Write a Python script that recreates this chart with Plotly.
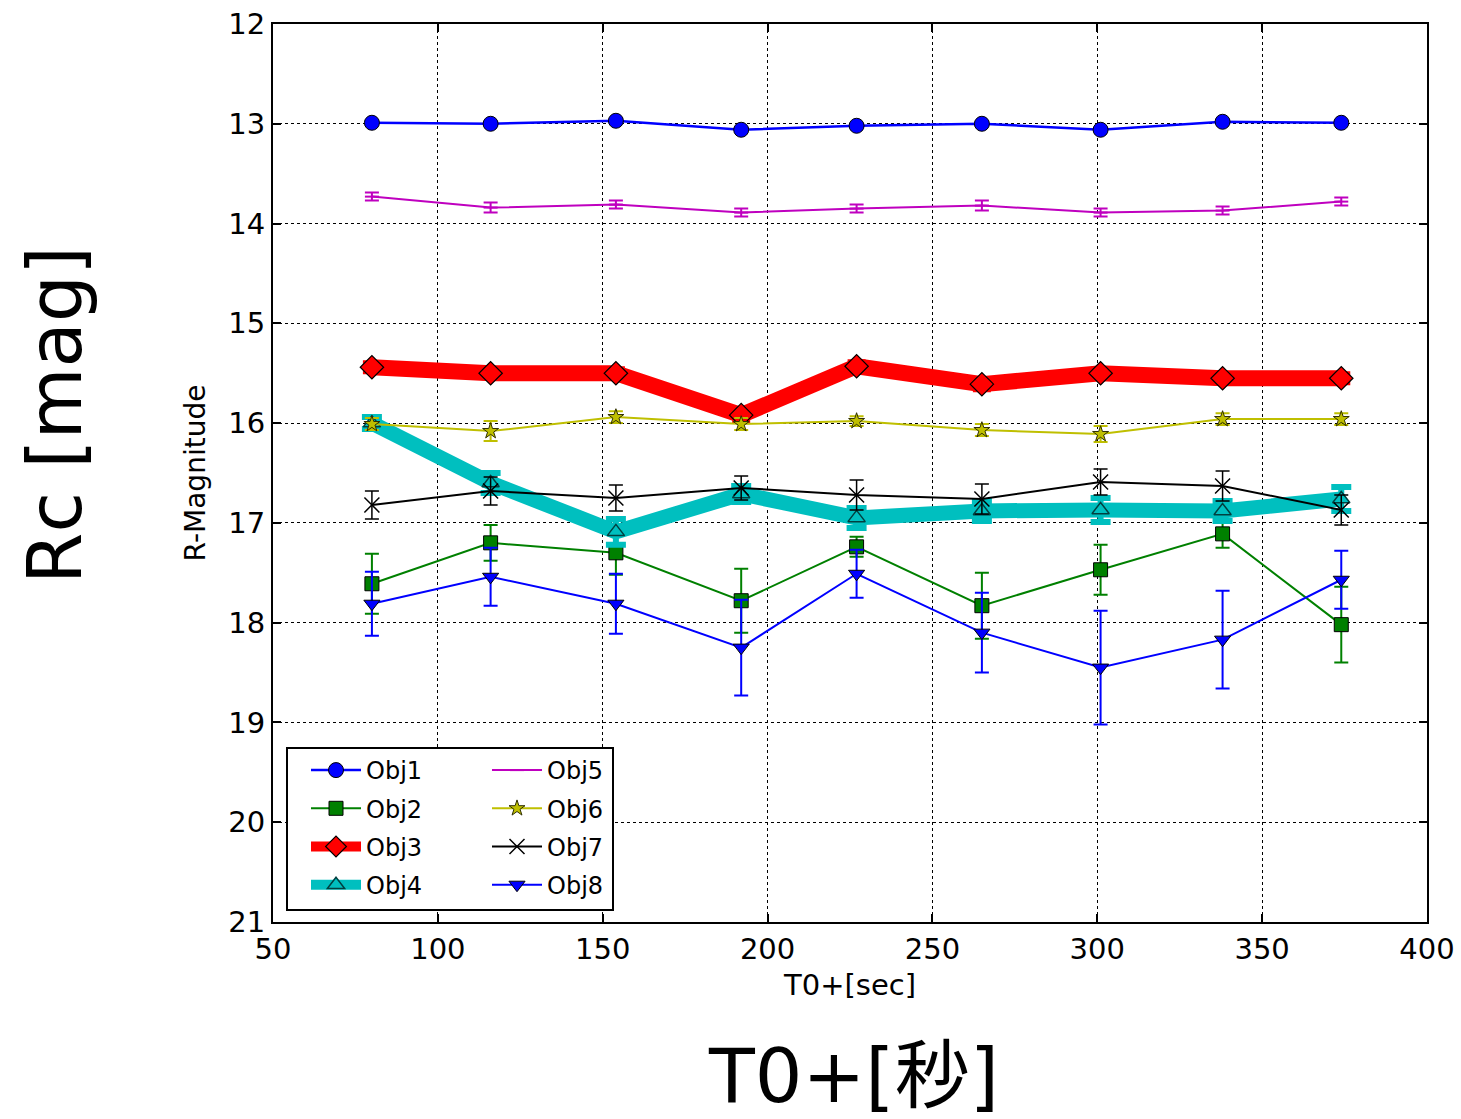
import plotly.graph_objects as go

# ---------------- data ----------------
t_sec = [80, 116, 154, 192, 227, 265, 301, 338, 374]

obj1 = [12.99, 13.00, 12.97, 13.06, 13.02, 13.00, 13.06, 12.98, 12.99]
obj1_err = [0.02, 0.02, 0.02, 0.02, 0.02, 0.02, 0.02, 0.02, 0.02]

obj2 = [17.61, 17.20, 17.30, 17.78, 17.24, 17.83, 17.47, 17.11, 18.02]
obj2_err = [0.30, 0.18, 0.22, 0.32, 0.10, 0.33, 0.25, 0.14, 0.38]

obj3 = [15.44, 15.50, 15.50, 15.92, 15.43, 15.61, 15.50, 15.55, 15.55]
obj3_err = [0.04, 0.04, 0.04, 0.05, 0.04, 0.05, 0.04, 0.04, 0.04]

obj4 = [16.00, 16.60, 17.09, 16.71, 16.95, 16.88, 16.87, 16.88, 16.76]
obj4_err = [0.06, 0.10, 0.13, 0.08, 0.10, 0.10, 0.12, 0.10, 0.12]

obj5 = [13.73, 13.84, 13.81, 13.89, 13.85, 13.82, 13.89, 13.87, 13.78]
obj5_err = [0.04, 0.05, 0.04, 0.04, 0.04, 0.05, 0.04, 0.04, 0.04]

obj6 = [16.01, 16.08, 15.94, 16.01, 15.98, 16.07, 16.11, 15.96, 15.96]
obj6_err = [0.06, 0.10, 0.06, 0.06, 0.05, 0.06, 0.08, 0.06, 0.06]

obj7 = [16.82, 16.68, 16.75, 16.65, 16.72, 16.76, 16.59, 16.63, 16.87]
obj7_err = [0.14, 0.14, 0.13, 0.12, 0.15, 0.15, 0.13, 0.15, 0.15]

obj8 = [17.81, 17.54, 17.81, 18.25, 17.51, 18.10, 18.45, 18.17, 17.57]
obj8_err = [0.32, 0.29, 0.30, 0.48, 0.24, 0.40, 0.57, 0.49, 0.29]

names = ["Obj1", "Obj2", "Obj3", "Obj4", "Obj5", "Obj6", "Obj7", "Obj8"]
x_ticks = [50, 100, 150, 200, 250, 300, 350, 400]
y_ticks = [12, 13, 14, 15, 16, 17, 18, 19, 20, 21]

# ---------------- styles ----------------
BLUE = "#0000ff"
GREEN = "#008000"
RED = "#ff0000"
CYAN = "#00bfbf"
MAGENTA = "#bf00bf"
YELLOW = "#bfbf00"
BLACK = "#000000"

series = [
    dict(y=obj1, e=obj1_err, color=BLUE, lw=2.5, sym="circle", size=15, mfill=BLUE, mline=BLACK, mlw=1, ethick=2, ew=7, legend="legend"),
    dict(y=obj2, e=obj2_err, color=GREEN, lw=2, sym="square", size=14, mfill=GREEN, mline=BLACK, mlw=1, ethick=2, ew=7, legend="legend"),
    dict(y=obj3, e=obj3_err, color=RED, lw=16, sym="diamond", size=18, mfill=RED, mline=BLACK, mlw=1.2, ethick=6, ew=9, legend="legend"),
    dict(y=obj4, e=obj4_err, color=CYAN, lw=15, sym="triangle-up", size=15, mfill=CYAN, mline="#004040", mlw=1.5, ethick=6, ew=10, legend="legend"),
    dict(y=obj5, e=obj5_err, color=MAGENTA, lw=2, sym="line-ew-open", size=10, mfill=MAGENTA, mline=MAGENTA, mlw=2, ethick=2, ew=7, legend="legend2"),
    dict(y=obj6, e=obj6_err, color=YELLOW, lw=2, sym="star", size=12, mfill=YELLOW, mline="#303000", mlw=1, ethick=2, ew=7, legend="legend2"),
    dict(y=obj7, e=obj7_err, color=BLACK, lw=2, sym="x-thin-open", size=15, mfill=BLACK, mline=BLACK, mlw=1.5, ethick=1.5, ew=7, legend="legend2"),
    dict(y=obj8, e=obj8_err, color=BLUE, lw=2, sym="triangle-down", size=14, mfill=BLUE, mline=BLACK, mlw=1, ethick=2, ew=7, legend="legend2"),
]

fig = go.Figure()
for i, (nm, s) in enumerate(zip(names, series)):
    fig.add_trace(go.Scatter(
        x=t_sec, y=s["y"], name=nm, mode="lines+markers",
        line=dict(color=s["color"], width=s["lw"]),
        marker=dict(symbol=s["sym"], size=s["size"], color=s["mfill"],
                    line=dict(color=s["mline"], width=s["mlw"])),
        error_y=dict(type="data", array=s["e"], visible=True,
                     color=s["color"], thickness=s["ethick"], width=s["ew"]),
        legend=s["legend"], legendgroup=nm,
    ))

FONT = "DejaVu Sans"

L, R, T, B = 273, 34, 24, 197
W, H = 1461, 1119
PW, PH = W - L - R, H - T - B


def px(xp):
    return (xp - L) / PW


def py(yp):
    return (H - B - yp) / PH


legend_common = dict(
    bgcolor="rgba(255,255,255,0)", borderwidth=0,
    font=dict(family=FONT, size=24, color="#000000"),
    xanchor="left", yanchor="top", traceorder="grouped",
    tracegroupgap=4, itemwidth=50,
)

fig.update_layout(
    width=W, height=H,
    margin=dict(l=L, r=R, t=T, b=B, autoexpand=False),
    paper_bgcolor="white", plot_bgcolor="white",
    font=dict(family=FONT, size=29, color="#000000"),
    showlegend=True,
    legend=dict(x=px(306), y=py(748), **legend_common),
    legend2=dict(x=px(487), y=py(748), **legend_common),
    xaxis=dict(
        range=[50, 400], tickmode="array", tickvals=x_ticks,
        ticktext=[str(v) for v in x_ticks],
        showgrid=True, gridcolor="#000000", griddash="dot", gridwidth=1,
        zeroline=False, showline=True, linecolor="#000000", linewidth=2,
        mirror="allticks", ticks="inside", ticklen=8, tickwidth=1.5, tickcolor="#000000",
        tickfont=dict(family=FONT, size=29),
        title=dict(text="T0+[sec]", font=dict(family=FONT, size=29), standoff=10),
    ),
    yaxis=dict(
        range=[21, 12], tickmode="array", tickvals=y_ticks,
        ticktext=[str(v) for v in y_ticks],
        showgrid=True, gridcolor="#000000", griddash="dot", gridwidth=1,
        zeroline=False, showline=True, linecolor="#000000", linewidth=2,
        mirror="allticks", ticks="inside", ticklen=8, tickwidth=1.5, tickcolor="#000000",
        tickfont=dict(family=FONT, size=29),
        title=dict(text="R-Magnitude", font=dict(family=FONT, size=28), standoff=14),
    ),
    shapes=[dict(type="rect", xref="paper", yref="paper",
                 x0=px(287), x1=px(613), y0=py(910), y1=py(748),
                 line=dict(color="#000000", width=2), fillcolor="white", layer="above")],
    annotations=[
        dict(text="Rc [mag]", xref="paper", yref="paper", x=px(55), y=py(415),
             showarrow=False, textangle=-90, xanchor="center", yanchor="middle",
             font=dict(family=FONT, size=74, color="#000000")),
        dict(text="T0+[秒]", xref="paper", yref="paper", x=px(853), y=py(1076),
             showarrow=False, xanchor="center", yanchor="middle",
             font=dict(family="DejaVu Sans, Noto Sans CJK JP", size=75, color="#000000")),
    ],
)

fig.write_html(
    "out.html",
    config={"displayModeBar": False},
    post_script="document.body.style.margin='0px';"
                "document.documentElement.style.overflow='hidden';"
                "document.body.style.overflow='hidden';",
)
